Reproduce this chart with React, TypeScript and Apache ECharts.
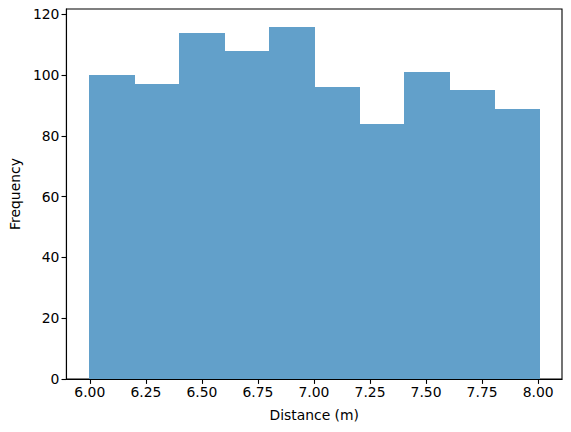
import React, { useEffect, useRef } from "react";
import * as echarts from "echarts";

const binEdges = [5.996, 6.197, 6.398, 6.599, 6.8, 7.001, 7.202, 7.403, 7.604, 7.805, 8.006];
const counts = [100, 97, 114, 108, 116, 96, 84, 101, 95, 89];
const xTicks = [6.0, 6.25, 6.5, 6.75, 7.0, 7.25, 7.5, 7.75, 8.0];
const yTicks = [0, 20, 40, 60, 80, 100, 120];
const xLabel = "Distance (m)";
const yLabel = "Frequency";

const FONT = "DejaVu Sans";
const FS = 13.9;

export default function App() {
  const ref = useRef<HTMLDivElement>(null);
  useEffect(() => {
    if (!ref.current) return;
    const chart = echarts.init(ref.current, undefined, { renderer: "svg" });
    const data = counts.map((c, i) => [binEdges[i], binEdges[i + 1], c]);
    chart.setOption({
      animation: false,
      backgroundColor: "#ffffff",
      textStyle: { fontFamily: FONT },
      grid: {
        left: 66,
        top: 9,
        width: 496,
        height: 370,
        show: true,
        borderColor: "#000000",
        borderWidth: 1.1,
        backgroundColor: "transparent",
      },
      xAxis: {
        type: "value",
        min: 5.8955,
        max: 8.1065,
        name: xLabel,
        nameLocation: "middle",
        nameGap: 29,
        nameTextStyle: { fontFamily: FONT, fontSize: FS, color: "#000" },
        axisLine: { show: true, onZero: false, lineStyle: { color: "#000", width: 1.1 } },
        axisTick: {
          show: true,
          length: 4.9,
          lineStyle: { color: "#000", width: 1.1 },
          customValues: xTicks,
        },
        axisLabel: {
          show: true,
          margin: 6,
          fontFamily: FONT,
          fontSize: FS,
          color: "#000",
          customValues: xTicks,
          formatter: (v: number) => v.toFixed(2),
        },
        splitLine: { show: false },
      },
      yAxis: {
        type: "value",
        min: 0,
        max: 121.8,
        name: yLabel,
        nameLocation: "middle",
        nameGap: 41,
        nameTextStyle: { fontFamily: FONT, fontSize: FS, color: "#000" },
        axisLine: { show: true, lineStyle: { color: "#000", width: 1.1 } },
        axisTick: {
          show: true,
          length: 4.9,
          lineStyle: { color: "#000", width: 1.1 },
          customValues: yTicks,
        },
        axisLabel: {
          show: true,
          margin: 7,
          fontFamily: FONT,
          fontSize: FS,
          color: "#000",
          customValues: yTicks,
          formatter: (v: number) => String(v),
        },
        splitLine: { show: false },
      },
      series: [
        {
          type: "custom",
          data,
          encode: { x: [0, 1], y: 2 },
          z: 1,
          renderItem: (params: any, api: any) => {
            const x0 = api.value(0);
            const x1 = api.value(1);
            const c = api.value(2);
            const p0 = api.coord([x0, c]);
            const p1 = api.coord([x1, 0]);
            const left = Math.round(p0[0]);
            const right = Math.round(p1[0]);
            const top = Math.round(p0[1]);
            const bottom = Math.round(p1[1]);
            return {
              type: "rect",
              shape: { x: left, y: top, width: right - left + 1, height: bottom - top },
              style: { fill: "#62a0ca", stroke: null, lineWidth: 0, opacity: 1 },
            };
          },
        },
      ],
    });
    return () => chart.dispose();
  }, []);
  return (
    <div
      ref={ref}
      style={{ position: "fixed", left: 0, top: 0, width: 571, height: 432 }}
    />
  );
}
